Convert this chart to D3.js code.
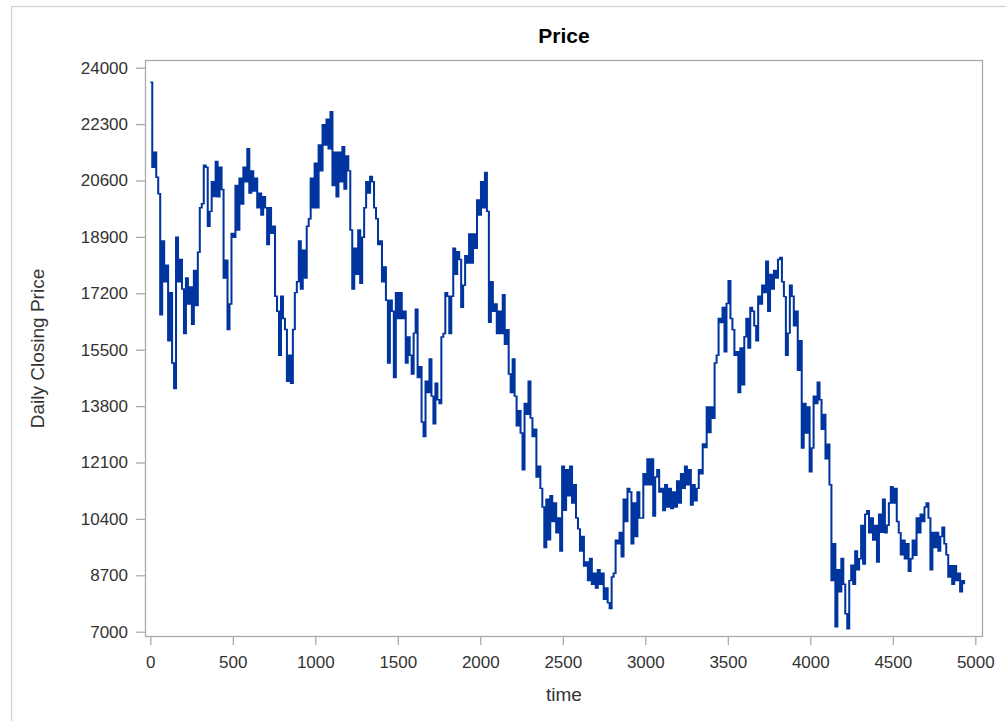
<!DOCTYPE html>
<html>
<head>
<meta charset="utf-8">
<script src="https://cdn.jsdelivr.net/npm/d3@7"></script>
<style>
  html, body { margin: 0; padding: 0; background: #ffffff; }
  svg { display: block; }
</style>
</head>
<body>
<svg id="chart" width="1006" height="721"></svg>
<script>
// ---- chart text ----
const chartTitle = "Price";
const xAxisLabel = "time";
const yAxisLabel = "Daily Closing Price";

// ---- tick labels ----
const xTickValues = [0, 500, 1000, 1500, 2000, 2500, 3000, 3500, 4000, 4500, 5000];
const yTickValues = [7000, 8700, 10400, 12100, 13800, 15500, 17200, 18900, 20600, 22300, 24000];

// ---- series: daily closing price, one stored close every `sampleStep` trading days ----
const sampleStep = 12;
const closingPrice = [
  23560, 21000, 21450, 20700, 20200, 16550, 18780, 17550, 18050, 15770,
  17220, 15100, 14330, 18890, 17550, 18220, 17330, 15990, 17660, 16880,
  17390, 16270, 17890, 16830, 18440, 19780, 19900, 21060, 21000, 19220,
  19670, 20560, 20120, 21170, 20110, 21000, 20330, 17660, 18200, 16110,
  16880, 19000, 18890, 20450, 19110, 20670, 19890, 21000, 20560, 21560,
  20220, 20890, 20280, 20670, 19780, 20220, 19560, 20110,
  // 700 - 1400
  19780, 18670, 19780, 19010, 19220, 17110, 16660, 15330, 17110, 16440,
  16110, 14550, 15330, 14490, 16110, 17220, 17550, 18780, 17330, 18500,
  17660, 19220, 19450, 20670, 19780, 21120, 19780, 21670, 20890, 22280,
  21670, 22450, 21560, 22670, 20450, 21450, 20110, 21450, 20560, 21620,
  20340, 21340, 20890, 19110, 17330, 18560, 17770, 19110, 17500, 18890,
  19780, 20560, 20220, 20720, 20560, 19780, 19450, 18670, 18780, 17550,
  // 1400 - 2130
  17990, 16990, 15100, 16990, 16660, 14660, 17220, 16440, 17220, 16440,
  16660, 15100, 15880, 15330, 14770, 16000, 16720, 14660, 14990, 13320,
  12880, 14550, 14210, 15220, 14100, 13270, 14490, 13990, 13880, 15880,
  15990, 17220, 17110, 15990, 17110, 18560, 17770, 18450, 18220, 16780,
  17440, 18330, 18110, 18990, 18110, 18990, 18560, 20010, 19560, 20560,
  19780, 20840, 19670, 16330, 17550, 16660, 16880, 15990, 16660, 15990,
  // 2130 - 2850
  17160, 15660, 16100, 14770, 14210, 15220, 14100, 13210, 13660, 12990,
  11880, 13880, 13550, 14550, 13440, 12880, 13100, 11660, 11990, 11320,
  10760, 9540, 10990, 9770, 11100, 10320, 10880, 9980, 10430, 9430,
  11990, 10660, 11880, 11100, 11990, 10880, 11430, 10430, 10100, 9430,
  9870, 8980, 9100, 8540, 9210, 8430, 8760, 8320, 8870, 8430,
  8760, 7980, 8320, 7870, 7700, 8650, 8760, 9760, 9650, 9990,
  // 2850 - 3560
  9260, 10990, 10320, 11320, 11210, 9650, 10880, 9870, 11210, 10430,
  10430, 11760, 11430, 12210, 11430, 12210, 10490, 11660, 11880, 11210,
  11320, 10650, 11430, 10760, 11320, 10710, 11210, 10760, 11540, 10880,
  11760, 11320, 11990, 11430, 11880, 10820, 11430, 10950, 11320, 11880,
  11760, 12660, 12550, 13770, 13000, 13770, 13430, 15100, 15330, 16440,
  16320, 16770, 15440, 16890, 17580, 16440, 16100, 15330, 15440, 14210,
  // 3560 - 4280
  15550, 14440, 15890, 16440, 15550, 16770, 16660, 16220, 15770, 17110,
  16880, 17440, 17220, 18170, 16660, 17770, 17330, 17890, 17660, 18220,
  18280, 17550, 17100, 15330, 16000, 17440, 17110, 16220, 16660, 14880,
  15770, 12540, 13880, 12990, 13770, 11820, 12540, 14100, 13880, 14520,
  13990, 13100, 13550, 12210, 12650, 11430, 8540, 9650, 7150, 8870,
  8200, 9210, 8430, 7540, 7090, 8540, 9000, 8430, 9430, 8870,
  // 4280 - 4920
  9200, 10200, 9040, 10540, 10650, 9980, 10430, 9760, 10200, 9100,
  10540, 10000, 10990, 9980, 10210, 10880, 11370, 10880, 11320, 10320,
  9980, 9320, 9760, 9200, 9650, 8820, 9200, 9760, 9300, 10430,
  9980, 10540, 10320, 10760, 10880, 10430, 8870, 9990, 9540, 9990,
  9430, 9870, 10150, 9650, 9320, 8650, 8990, 8430, 8990, 8540,
  8760, 8200, 8540, 8430
];

// ---- drawing ----
const svg = d3.select("#chart");
const frame = { left: 145.5, right: 982.5, top: 60.5, bottom: 636.5 };

const x = d3.scaleLinear().domain([0, 5000]).range([150.3, 975.3]);
const y = d3.scaleLinear().domain([7000, 24000]).range([631.7, 67.7]);

const axisColor = "#a7abaf";
const textColor = "#333333";
const fontFamily = "'Liberation Sans', Arial, sans-serif";

// outer graph border
svg.append("rect")
  .attr("x", 11.5).attr("y", 6.5)
  .attr("width", 1100).attr("height", 800)
  .attr("fill", "none")
  .attr("stroke", "#d3d3d3")
  .attr("stroke-width", 1.3);

// title
svg.append("text")
  .attr("x", (frame.left + frame.right) / 2)
  .attr("y", 43)
  .attr("text-anchor", "middle")
  .attr("font-family", fontFamily)
  .attr("font-weight", "bold")
  .attr("font-size", 21)
  .attr("fill", "#000000")
  .text(chartTitle);

// series line: closes held flat until the next stored close.
// The path lives in a horizontally widened group so vertical moves
// render a little heavier than the flat connectors.
const widen = 1.4;
const line = d3.line()
  .x((d, i) => x(i * sampleStep) / widen)
  .y(d => y(d))
  .curve(d3.curveStepAfter);

svg.append("g")
  .attr("transform", `scale(${widen},1)`)
  .append("path")
  .datum(closingPrice)
  .attr("d", line)
  .attr("fill", "none")
  .attr("stroke", "#00349e")
  .attr("stroke-width", 1.45)
  .attr("stroke-linejoin", "miter");

// plot frame
svg.append("rect")
  .attr("x", frame.left).attr("y", frame.top)
  .attr("width", frame.right - frame.left)
  .attr("height", frame.bottom - frame.top)
  .attr("fill", "none")
  .attr("stroke", axisColor)
  .attr("stroke-width", 1.3);

// y axis
const yAxis = d3.axisLeft(y)
  .tickValues(yTickValues)
  .tickFormat(d3.format("d"))
  .tickSize(9.5)
  .tickPadding(8)
  .tickSizeOuter(0);

const gy = svg.append("g")
  .attr("transform", `translate(${frame.left},0)`)
  .call(yAxis);
gy.select(".domain").remove();
gy.selectAll(".tick line").attr("stroke", axisColor).attr("stroke-width", 1.3);
gy.selectAll(".tick text")
  .attr("font-family", fontFamily)
  .attr("font-size", 17)
  .attr("fill", textColor);

// x axis
const xAxis = d3.axisBottom(x)
  .tickValues(xTickValues)
  .tickFormat(d3.format("d"))
  .tickSize(8.5)
  .tickPadding(11)
  .tickSizeOuter(0);

const gx = svg.append("g")
  .attr("transform", `translate(0,${frame.bottom})`)
  .call(xAxis);
gx.select(".domain").remove();
gx.selectAll(".tick line").attr("stroke", axisColor).attr("stroke-width", 1.3);
gx.selectAll(".tick text")
  .attr("font-family", fontFamily)
  .attr("font-size", 17)
  .attr("fill", textColor);

// axis labels
svg.append("text")
  .attr("x", (frame.left + frame.right) / 2)
  .attr("y", 701)
  .attr("text-anchor", "middle")
  .attr("font-family", fontFamily)
  .attr("font-size", 19)
  .attr("fill", textColor)
  .text(xAxisLabel);

svg.append("text")
  .attr("transform", `translate(44,${(frame.top + frame.bottom) / 2}) rotate(-90)`)
  .attr("text-anchor", "middle")
  .attr("font-family", fontFamily)
  .attr("font-size", 19)
  .attr("fill", textColor)
  .text(yAxisLabel);
</script>
</body>
</html>
